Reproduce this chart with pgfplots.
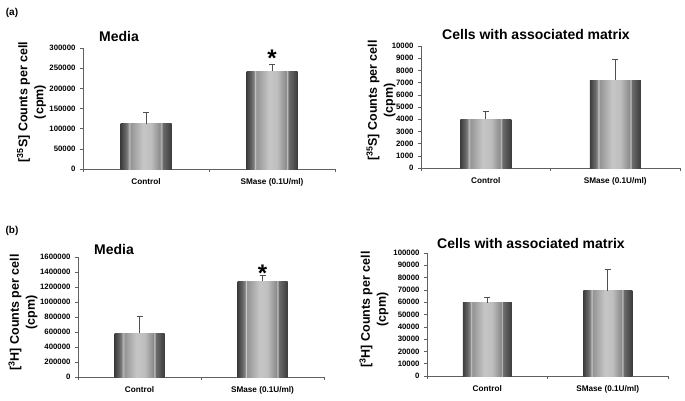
\documentclass[border=0pt]{standalone}
\usepackage{fontspec}
\setmainfont{Liberation Sans}
\usepackage{pgfplots}
\pgfplotsset{compat=1.18}
\definecolor{axisgray}{HTML}{606060}
\definecolor{errgray}{HTML}{505050}
\definecolor{bA}{HTML}{3C3C3C}
\definecolor{bB}{HTML}{666666}
\definecolor{bC}{HTML}{888888}
\definecolor{bS}{HTML}{D2D2D2}
\definecolor{bD}{HTML}{939393}
\definecolor{bE}{HTML}{C6C6C6}
\definecolor{bF}{HTML}{BEBEBE}
\definecolor{bG}{HTML}{8A8A8A}
\definecolor{bH}{HTML}{6E6E6E}
\pgfdeclarehorizontalshading{barshade}{100bp}{%
color(0bp)=(bA); color(25bp)=(bA); color(30bp)=(bB); color(32.5bp)=(bC);
color(33.5bp)=(bS); color(34.5bp)=(bD); color(47bp)=(bE); color(55bp)=(bF);
color(64bp)=(bG); color(65bp)=(bS); color(66bp)=(bH); color(75bp)=(bA); color(100bp)=(bA)}
\pgfplotsset{
  panel/.style={
    scale only axis, clip=false,
    axis x line*=bottom, axis y line*=left,
    xmin=0, xmax=2, ymin=0,
    xtick={0.5,1.5}, xticklabels={Control,SMase (0.1U/ml)},
    minor xtick={0,1,2},
    major x tick style={draw=none},
    tick align=outside, major tick length=3pt, minor tick length=3pt,
    axis line style={axisgray, line width=0.7pt},
    tick style={axisgray, line width=0.6pt},
    /pgf/number format/assume math mode=true,
    scaled y ticks=false,
    yticklabel style={/pgf/number format/fixed, /pgf/number format/1000 sep={},
      font=\fontsize{7.8}{9}\selectfont\bfseries, xshift=-1pt},
    xticklabel style={font=\fontsize{8.2}{10}\selectfont\bfseries, yshift=-3pt},
  },
  mybar/.style={
    ybar, bar width=#1, bar shift=0pt, draw=none, shading=barshade,
    error bars/.cd, y dir=plus, y explicit,
    error bar style={errgray, line width=0.8pt},
    error mark options={rotate=90, mark size=3pt, errgray, line width=0.8pt},
  },
}
\begin{document}
\begin{tikzpicture}
\useasboundingbox (0,0) rectangle (685pt,400pt);
% (a) left
\begin{axis}[panel, at={(83pt,231pt)}, anchor=south west,
  width=252pt, height=121pt, ymax=300000, ytick distance=50000]
\addplot[mybar=51pt] coordinates {(0.5,112000) +- (0,28500)};
\addplot[mybar=51pt] coordinates {(1.5,242000) +- (0,17000)};
\node[anchor=base, font=\fontsize{24}{24}\selectfont\bfseries] at (axis cs:1.5,254000) {*};
\end{axis}
% (a) right
\begin{axis}[panel, at={(421pt,232pt)}, anchor=south west,
  width=259pt, height=122pt, ymax=10000, ytick distance=1000]
\addplot[mybar=51pt] coordinates {(0.5,4000) +- (0,650)};
\addplot[mybar=51pt] coordinates {(1.5,7200) +- (0,1700)};
\end{axis}
% (b) left
\begin{axis}[panel, at={(78pt,23pt)}, anchor=south west,
  width=246pt, height=120pt, ymax=1600000, ytick distance=200000]
\addplot[mybar=50pt] coordinates {(0.5,585000) +- (0,224000)};
\addplot[mybar=50pt] coordinates {(1.5,1278000) +- (0,72000)};
\node[anchor=base, font=\fontsize{24}{24}\selectfont\bfseries] at (axis cs:1.5,1273000) {*};
\end{axis}
% (b) right
\begin{axis}[panel, at={(427pt,24pt)}, anchor=south west,
  width=241pt, height=123pt, ymax=100000, ytick distance=10000]
\addplot[mybar=49pt] coordinates {(0.5,59400) +- (0,4600)};
\addplot[mybar=49pt] coordinates {(1.5,69500) +- (0,17500)};
\end{axis}
% titles
\node[font=\fontsize{14}{16}\selectfont\bfseries] at (119pt,364pt) {Media};
\node[font=\fontsize{14}{16}\selectfont\bfseries] at (536pt,366pt) {Cells with associated matrix};
\node[font=\fontsize{14}{16}\selectfont\bfseries] at (114pt,151pt) {Media};
\node[font=\fontsize{14}{16}\selectfont\bfseries] at (531pt,156.5pt) {Cells with associated matrix};
% panel letters
\node[font=\fontsize{10}{12}\selectfont\bfseries] at (12pt,387.5pt) {(a)};
\node[font=\fontsize{10}{12}\selectfont\bfseries] at (12pt,169pt) {(b)};
% y labels
\node[rotate=90, align=center, font=\fontsize{12.5}{16}\selectfont\bfseries] at (31.5pt,298pt) {[\textsuperscript{35}S] Counts per cell\\(cpm)};
\node[rotate=90, align=center, font=\fontsize{12.5}{16}\selectfont\bfseries] at (381pt,299.5pt) {[\textsuperscript{35}S] Counts per cell\\(cpm)};
\node[rotate=90, align=center, font=\fontsize{12.5}{16}\selectfont\bfseries] at (23pt,87.5pt) {[\textsuperscript{3}H] Counts per cell\\(cpm)};
\node[rotate=90, align=center, font=\fontsize{12.5}{16}\selectfont\bfseries] at (374pt,90.5pt) {[\textsuperscript{3}H] Counts per cell\\(cpm)};
\end{tikzpicture}
\end{document}
